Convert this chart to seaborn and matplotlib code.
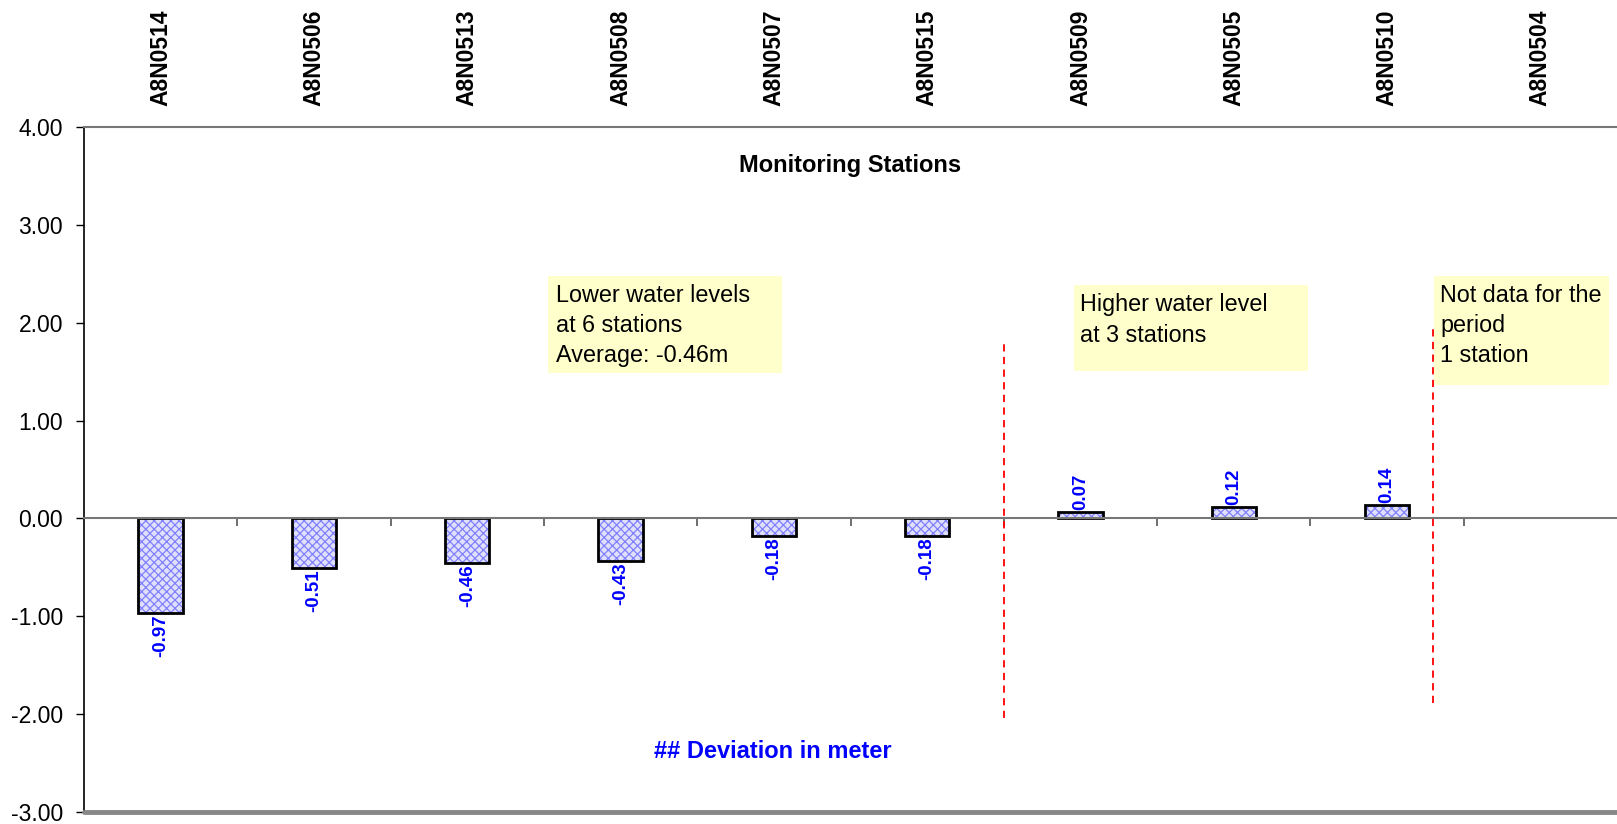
import numpy as np
import pandas as pd
import matplotlib
matplotlib.use("Agg")
import matplotlib.pyplot as plt
from matplotlib.patches import Rectangle
from matplotlib.container import BarContainer
from matplotlib.ticker import FormatStrFormatter, FixedLocator
import seaborn as sns

# Monitoring stations and their water level deviation (m); last station has no data
stations = ["A8N0514", "A8N0506", "A8N0513", "A8N0508", "A8N0507",
            "A8N0515", "A8N0509", "A8N0505", "A8N0510", "A8N0504"]
deviation = [-0.97, -0.51, -0.46, -0.43, -0.18, -0.18, 0.07, 0.12, 0.14, np.nan]
y_ticks = [-3, -2, -1, 0, 1, 2, 3, 4]

df = pd.DataFrame({"station": stations, "deviation": deviation})

sns.set_style("white")
plt.rcParams["font.family"] = ["Liberation Sans", "DejaVu Sans"]
plt.rcParams["text.color"] = "black"
plt.rcParams["xtick.color"] = "black"
plt.rcParams["ytick.color"] = "black"
plt.rcParams["hatch.linewidth"] = 0.9

fig = plt.figure(figsize=(16.17, 8.24), dpi=100)
ax = fig.add_axes([84 / 1617, 12 / 824, 1533 / 1617, 685 / 824])

# checkered fill, then black outlines on top
sns.barplot(data=df, x="station", y="deviation", order=stations, ax=ax,
            width=0.29, color="#dcdcff", edgecolor="#8080ff", linewidth=0,
            hatch="xxxx", errorbar=None)
sns.barplot(data=df, x="station", y="deviation", order=stations, ax=ax,
            width=0.29, fill=False, edgecolor="black", linewidth=2.0,
            errorbar=None)

# value labels on the bars that have data
bars = [p for p in ax.containers[0] if p is not None]
vals = [v for v in deviation if not np.isnan(v)]
labelled = BarContainer(bars, datavalues=vals, orientation="vertical")
ax.bar_label(labelled, labels=[f"{v:.2f}" for v in vals], rotation=90, padding=1,
             color="#0000ff", fontsize=13.5, fontweight="bold")

ax.set_xlim(-0.5, len(stations) - 0.5)
ax.set_ylim(-3, 4)
ax.set_xlabel("")
ax.set_ylabel("")

# spines: bottom spine runs along zero
ax.spines["bottom"].set_position(("data", 0))
ax.spines["bottom"].set_color("#777777")
ax.spines["bottom"].set_linewidth(1.5)
ax.spines["top"].set_color("#777777")
ax.spines["top"].set_linewidth(1.5)
ax.spines["left"].set_color("black")
ax.spines["left"].set_linewidth(1.2)
ax.spines["right"].set_visible(False)
ax.axhline(-3, color="#888888", lw=3.5, clip_on=False, zorder=3)

# y axis
ax.yaxis.set_major_locator(FixedLocator(y_ticks))
ax.yaxis.set_major_formatter(FormatStrFormatter("%.2f"))
ax.tick_params(axis="y", left=True, length=6, width=1, direction="out",
               pad=9, labelsize=16.5, labelcolor="black", color="black")

# station names above the plot, boundary ticks on the zero line
ax.set_xticks(range(len(stations)))
ax.xaxis.set_minor_locator(FixedLocator(np.arange(0.5, len(stations) - 0.5, 1)))
ax.tick_params(axis="x", which="major", bottom=False, top=True, labelbottom=False,
               labeltop=True, length=0, pad=15, labelrotation=90,
               labelsize=16.5, labelcolor="black")
ax.tick_params(axis="x", which="minor", bottom=True, top=False, length=6,
               width=1.2, direction="out", color="#555555")
ax.set_xticklabels(stations, fontweight="bold")

# group separators
ax.plot([5.5, 5.5], [-2.04, 1.82], color="red", lw=1.3, ls=(0, (4, 3)))
ax.plot([8.3, 8.3], [-1.89, 1.96], color="red", lw=1.3, ls=(0, (4, 3)))

# note boxes
box_color = "#ffffcc"
notes = [
    ((2.526, 1.49), 1.524, 0.99, (2.58, 2.40),
     "Lower water levels\nat 6 stations\nAverage: -0.46m"),
    ((5.957, 1.508), 1.53, 0.878, (6.0, 2.30),
     "Higher water level\nat 3 stations"),
    ((8.304, 1.365), 1.144, 1.113, (8.345, 2.40),
     "Not data for the\nperiod\n1 station"),
]
for (x0, y0), w, h, (tx, ty), txt in notes:
    ax.add_patch(Rectangle((x0, y0), w, h, facecolor=box_color,
                           edgecolor="none", zorder=1, clip_on=False))
    ax.text(tx, ty, txt, ha="left", va="top", fontsize=16.8, color="black",
            linespacing=1.4, zorder=2)

ax.text(0.5, 0.9445, "Monitoring Stations", transform=ax.transAxes,
        ha="center", va="center", fontsize=17, fontweight="bold", color="black")
ax.text(0.449, 0.0876, "## Deviation in meter", transform=ax.transAxes,
        ha="center", va="center", fontsize=17, fontweight="bold", color="#0000ff")

fig.savefig("out.png", dpi=100, facecolor="white")
